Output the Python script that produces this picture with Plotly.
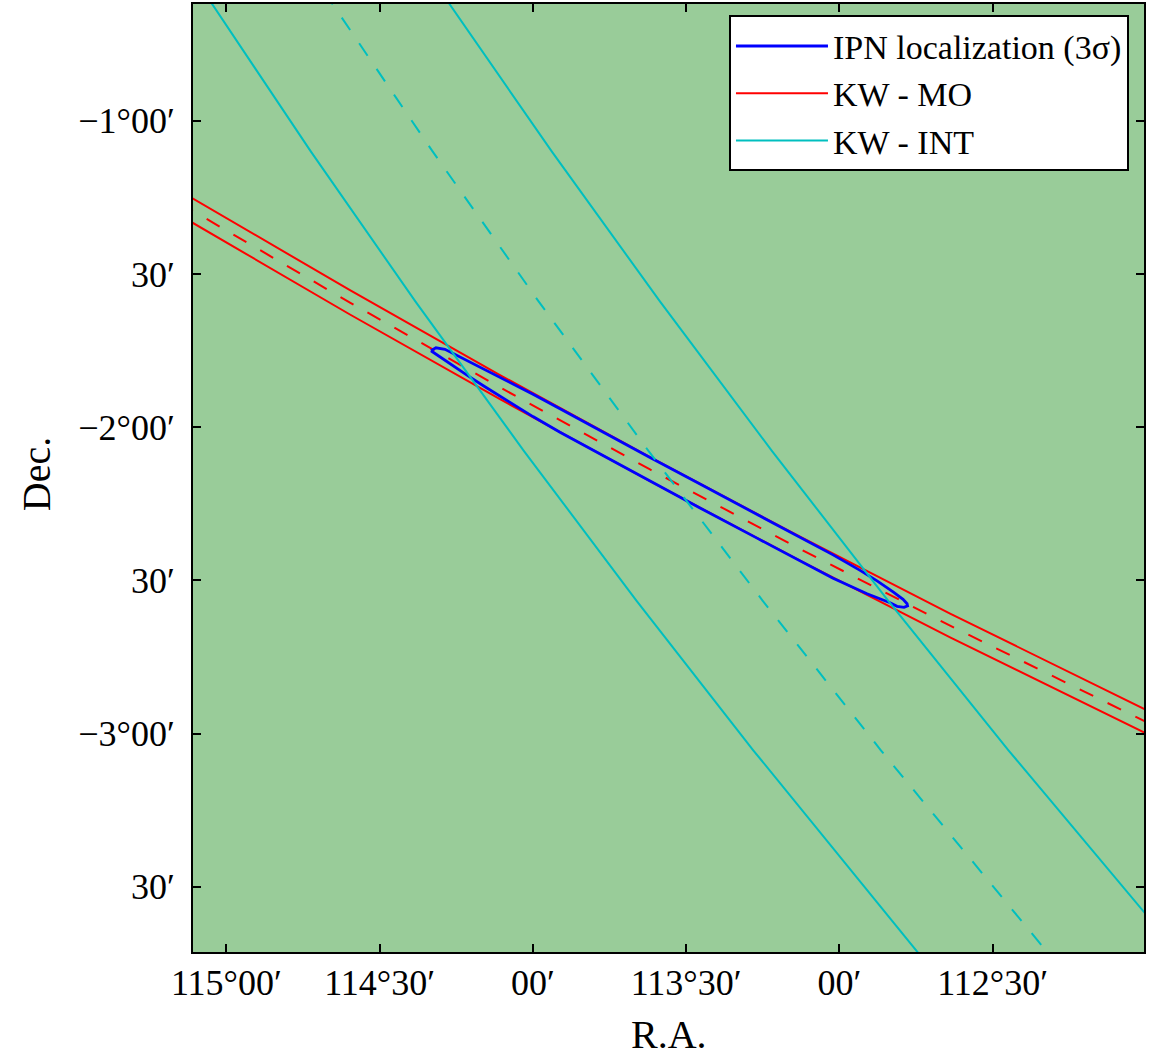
import plotly.graph_objects as go

# ---- data (R.A. and Dec. in degrees) ----
# KW - MO annulus (red): shared R.A. samples, three Dec. curves
mo_ra = [115.1518, 114.5969, 114.1074, 113.6178, 113.1283, 112.6387, 111.9533]
mo_upper_dec = [-1.2289, -1.5531, -1.8300, -2.0982, -2.3577, -2.6086, -2.9454]
mo_center_dec = [-1.2696, -1.5936, -1.8702, -2.1381, -2.3975, -2.6481, -2.9845]
mo_lower_dec = [-1.3087, -1.6324, -1.9088, -2.1765, -2.4356, -2.6860, -3.0220]

# KW - INT annulus (cyan): shared Dec. samples, three R.A. curves
int_dec = [-0.5798, -1.1010, -1.5896, -2.0782, -2.5668, -3.0554, -3.7720]
int_left_ra = [115.0728, 114.7242, 114.3835, 114.0290, 113.6616, 113.2803, 112.6971]
int_center_ra = [114.6805, 114.3267, 113.9814, 113.6224, 113.2500, 112.8639, 112.2735]
int_right_ra = [114.2993, 113.9380, 113.5855, 113.2196, 112.8404, 112.4475, 111.8473]

# IPN localization 3-sigma contour (blue), closed loop
ipn_ra = [114.3326, 114.3163, 114.2869, 114.2161, 114.1074, 113.9997, 113.9116, 113.7810,
          113.6178, 113.4546, 113.2914, 113.1283, 113.0206, 112.9324, 112.8770, 112.8247,
          112.7921, 112.7790, 112.7774, 112.7888, 112.8117, 112.8345, 112.9096, 113.0206,
          113.1283, 113.2686, 113.4546, 113.6178, 113.7810, 113.9116, 113.9997, 114.1074,
          114.1629, 114.2151, 114.2608, 114.3032, 114.3260, 114.3326]
ipn_dec = [-1.7508, -1.7410, -1.7459, -1.7818, -1.8371, -1.8925, -1.9397, -2.0114,
           -2.0993, -2.1857, -2.2720, -2.3599, -2.4169, -2.4674, -2.5016, -2.5375,
           -2.5619, -2.5765, -2.5831, -2.5879, -2.5847, -2.5733, -2.5440, -2.4935,
           -2.4355, -2.3622, -2.2638, -2.1765, -2.0883, -2.0169, -1.9655, -1.8997,
           -1.8642, -1.8303, -1.8000, -1.7720, -1.7570, -1.7508]

x_ticks = [115.0, 114.5, 114.0, 113.5, 113.0, 112.5]
x_tick_text = ["115°00′", "114°30′", "00′", "113°30′", "00′", "112°30′"]
y_ticks = [-1.0, -1.5, -2.0, -2.5, -3.0, -3.5]
y_tick_text = ["−1°00′", "30′", "−2°00′", "30′", "−3°00′", "30′"]

x_range = [115.109, 112.006]
y_range = [-3.713, -0.619]

RED = "#FF0000"
CYAN = "#00BFBF"
BLUE = "#0000FF"
DASH = "15px,16px"
FONT = "Liberation Serif"

fig = go.Figure()

# red (KW - MO)
fig.add_trace(go.Scatter(x=mo_ra, y=mo_upper_dec, mode="lines", name="KW - MO",
                         line=dict(color=RED, width=2), legendrank=2, legendgroup="mo"))
fig.add_trace(go.Scatter(x=mo_ra, y=mo_center_dec, mode="lines", showlegend=False,
                         line=dict(color=RED, width=2, dash=DASH), legendgroup="mo"))
fig.add_trace(go.Scatter(x=mo_ra, y=mo_lower_dec, mode="lines", showlegend=False,
                         line=dict(color=RED, width=2), legendgroup="mo"))

# blue (IPN)
fig.add_trace(go.Scatter(x=ipn_ra, y=ipn_dec, mode="lines", name="IPN localization (3σ)",
                         line=dict(color=BLUE, width=2.8), legendrank=1, legendgroup="ipn"))

# cyan (KW - INT)
fig.add_trace(go.Scatter(x=int_left_ra, y=int_dec, mode="lines", name="KW - INT",
                         line=dict(color=CYAN, width=2), legendrank=3, legendgroup="int"))
fig.add_trace(go.Scatter(x=int_center_ra, y=int_dec, mode="lines", showlegend=False,
                         line=dict(color=CYAN, width=2, dash=DASH), legendgroup="int"))
fig.add_trace(go.Scatter(x=int_right_ra, y=int_dec, mode="lines", showlegend=False,
                         line=dict(color=CYAN, width=2), legendgroup="int"))

axis_common = dict(
    showgrid=False, zeroline=False, showline=True, linecolor="black", linewidth=2,
    mirror="ticks", ticks="inside", ticklen=8, tickwidth=1.5, tickcolor="black",
    tickfont=dict(family=FONT, size=36, color="black"),
)

fig.update_layout(
    width=1153, height=1057,
    margin=dict(l=193, r=9, t=2, b=105),
    paper_bgcolor="white",
    plot_bgcolor="#99CC99",
    font=dict(family=FONT, color="black"),
    xaxis=dict(range=x_range, tickvals=x_ticks, ticktext=x_tick_text,
               ticklabelstandoff=-2, **axis_common),
    yaxis=dict(range=y_range, tickvals=y_ticks, ticktext=y_tick_text,
               ticklabelstandoff=9, **axis_common),
    legend=dict(
        x=0.9842, y=0.988, xanchor="right", yanchor="top",
        bgcolor="white", bordercolor="black", borderwidth=2,
        font=dict(family=FONT, size=34, color="black"),
        tracegroupgap=0, itemwidth=92,
    ),
    annotations=[
        dict(text="R.A.", x=0.5, y=-0.0874, xref="paper", yref="paper",
             xanchor="center", yanchor="middle", showarrow=False,
             font=dict(family=FONT, size=40, color="black")),
        dict(text="Dec.", x=-0.1651, y=0.504, xref="paper", yref="paper",
             xanchor="center", yanchor="middle", showarrow=False, textangle=-90,
             font=dict(family=FONT, size=40, color="black")),
    ],
)

fig.write_html("out.html", config={"displayModeBar": False},
               post_script="document.body.style.margin='0';")
